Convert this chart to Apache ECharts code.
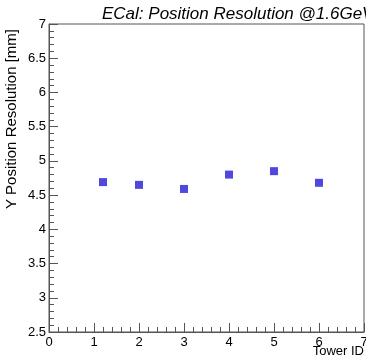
<!DOCTYPE html>
<html>
<head>
<meta charset="utf-8">
<script src="https://cdn.jsdelivr.net/npm/echarts@6/dist/echarts.min.js"></script>
<style>
html, body { margin: 0; padding: 0; background: #fff; }
#chart { width: 366px; height: 361px; }
</style>
</head>
<body>
<div id="chart"></div>
<script>
var towerIds = [1.2, 2, 3, 4, 5, 6];
var resolutions = [4.69, 4.65, 4.59, 4.80, 4.85, 4.68];

var points = [];
for (var i = 0; i < towerIds.length; i++) {
	points.push([towerIds[i], resolutions[i]]);
}

var myChart = echarts.init(document.getElementById('chart'));
var fontName = 'Liberation Sans';

var option = {
	animation: false,
	backgroundColor: '#ffffff',
	title: {
		text: 'ECal: Position Resolution @1.6GeV',
		left: 97,
		top: 1,
		textStyle: {
			fontFamily: fontName,
			fontStyle: 'italic',
			fontWeight: 'normal',
			fontSize: 17,
			color: '#000'
		}
	},
	grid: {
		left: 49,
		right: 2,
		top: 24,
		bottom: 29,
		outerBoundsMode: 'none',
		containLabel: false,
		show: true,
		borderColor: '#555',
		borderWidth: 1
	},
	xAxis: {
		type: 'value',
		min: 0,
		max: 7,
		interval: 1,
		axisLine: { lineStyle: { color: '#555' } },
		axisTick: { inside: true, length: 9, lineStyle: { color: '#555' } },
		minorTick: { show: true, splitNumber: 5, length: 5, lineStyle: { color: '#555' } },
		splitLine: { show: false },
		axisLabel: { fontFamily: fontName, fontSize: 13, color: '#000', margin: 4 }
	},
	yAxis: {
		type: 'value',
		min: 2.5,
		max: 7,
		interval: 0.5,
		axisLine: { lineStyle: { color: '#555' } },
		axisTick: { inside: true, length: 9, lineStyle: { color: '#555' } },
		minorTick: { show: true, splitNumber: 5, length: 5, lineStyle: { color: '#555' } },
		splitLine: { show: false },
		axisLabel: { fontFamily: fontName, fontSize: 13, color: '#000', margin: 3 }
	},
	graphic: [{
		type: 'text',
		left: 4,
		top: 29,
		rotation: Math.PI / 2,
		style: {
			text: 'Y Position Resolution [mm]',
			font: '15px "Liberation Sans"',
			fill: '#000'
		}
	}, {
		type: 'text',
		right: 2,
		top: 345,
		style: {
			text: 'Tower ID',
			font: '13px "Liberation Sans"',
			fill: '#000'
		}
	}],
	series: [{
		type: 'scatter',
		symbol: 'rect',
		symbolSize: 8,
		itemStyle: { color: '#5048dc', opacity: 1 },
		data: points
	}]
};

myChart.setOption(option);
</script>
</body>
</html>
